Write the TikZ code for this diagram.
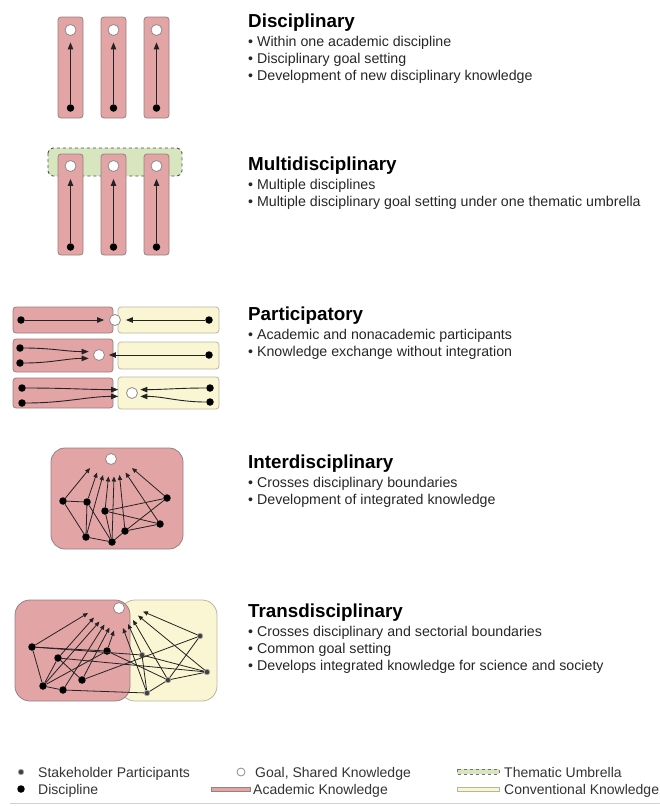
\documentclass[tikz,border=0pt]{standalone}
\usepackage{fontspec}
\setmainfont{Liberation Sans}
\usetikzlibrary{arrows.meta}
\definecolor{acad}{RGB}{227,164,166}
\definecolor{acadline}{RGB}{150,128,128}
\definecolor{conv}{RGB}{250,246,212}
\definecolor{convline}{RGB}{185,182,160}
\definecolor{umb}{RGB}{216,230,192}
\definecolor{edgec}{RGB}{35,35,35}
\definecolor{rulec}{RGB}{205,208,225}
\tikzset{
 acadbox/.style={fill=acad, draw=acadline, line width=0.8pt, rounded corners=3pt},
 convbox/.style={fill=conv, draw=convline, line width=0.8pt, rounded corners=3pt},
 goal/.style={circle, fill=white, draw=black!45, line width=0.8pt, minimum size=11pt, inner sep=0pt},
 disc/.style={circle, fill=black, minimum size=7.5pt, inner sep=0pt},
 stake/.style={circle, fill=black!75, draw=black!35, line width=0.7pt, minimum size=5.5pt, inner sep=0pt},
 arr/.style={draw=edgec, line width=0.9pt, -{Triangle[length=7pt,width=5.5pt]}},
 arrs/.style={draw=edgec, line width=0.8pt, -{Triangle[length=5pt,width=4.2pt]}},
 lnk/.style={draw=edgec, line width=0.8pt},
 ttl/.style={anchor=base west, inner sep=0pt, font=\fontsize{18.8}{22}\selectfont\bfseries},
 bul/.style={anchor=base west, inner sep=0pt, font=\fontsize{14.2}{17}\selectfont, text=black!85},
 leg/.style={anchor=base west, inner sep=0pt, font=\fontsize{14}{17}\selectfont, text=black!80},
}
\begin{document}
\begin{tikzpicture}[x=1pt,y=-1pt]
\useasboundingbox (0,0) rectangle (660,806);

% ---------- Disciplinary
\foreach \i/\x in {1/70.5,2/113.5,3/156.5}{
  \path[acadbox] (\x-12.5,17) rectangle (\x+12.5,118);
  \node[goal] (dg\i) at (\x,30) {};
  \node[disc] (dd\i) at (\x,108) {};
  \draw[arr, shorten >=6.5pt] (dd\i) -- (dg\i);
}
\node[ttl] (t1) at (248,27) {Disciplinary};
\node[bul] (b11) at (248,46.5) {• Within one academic discipline};
\node[bul] (b12) at (248,63.5) {• Disciplinary goal setting};
\node[bul] (b13) at (248,80.5) {• Development of new disciplinary knowledge};

% ---------- Multidisciplinary
\path[fill=umb, draw=black!70, dashed, line width=0.9pt, rounded corners=5pt] (48,148) rectangle (182,176);
\foreach \i/\x in {1/70.5,2/113.5,3/156.5}{
  \path[acadbox] (\x-12.5,154) rectangle (\x+12.5,255);
  \node[goal] (mg\i) at (\x,166) {};
  \node[disc] (md\i) at (\x,247) {};
  \draw[arr, shorten >=7pt] (md\i) -- (mg\i);
}
\node[ttl] (t2) at (248,170) {Multidisciplinary};
\node[bul] (b21) at (248,189.5) {• Multiple disciplines};
\node[bul] (b22) at (248,206.5) {• Multiple disciplinary goal setting under one thematic umbrella};

% ---------- Participatory
\path[acadbox] (13,307) rectangle (113,333);
\path[convbox] (118,307) rectangle (219,333);
\node[goal] (p1g) at (115,320) {};
\node[disc] (p1a) at (21,320) {};
\node[disc] (p1b) at (209,320) {};
\draw[arr, shorten >=5pt] (p1a) -- (p1g);
\draw[arr, shorten >=5pt] (p1b) -- (p1g);

\path[acadbox] (13,339) rectangle (113,372);
\path[convbox] (118,342) rectangle (219,369);
\node[goal] (p2g) at (99,355) {};
\node[disc] (p2a) at (20,348) {};
\node[disc] (p2b) at (20,363) {};
\node[disc] (p2c) at (209,355) {};
\draw[arr, shorten >=5.5pt] (p2a) to[out=0,in=180] (p2g.145);
\draw[arr, shorten >=5.5pt] (p2b) to[out=0,in=180] (p2g.215);
\draw[arr, shorten >=4pt] (p2c) -- (p2g);

\path[acadbox] (13,378) rectangle (113,408);
\path[convbox] (118,377) rectangle (219,409);
\node[goal] (p3g) at (132,393) {};
\node[disc] (p3a) at (22,388) {};
\node[disc] (p3b) at (22,403) {};
\node[disc] (p3c) at (210,388) {};
\node[disc] (p3d) at (210,402) {};
\draw[arr, shorten >=9pt] (p3a) to[out=0,in=180] (p3g.145);
\draw[arr, shorten >=9pt] (p3b) to[out=0,in=180] (p3g.215);
\draw[arr, shorten >=3.5pt] (p3c) to[out=180,in=0] (p3g.35);
\draw[arr, shorten >=3.5pt] (p3d) to[out=180,in=0] (p3g.-35);

\node[ttl] (t3) at (248,320) {Participatory};
\node[bul] (b31) at (248,339.5) {• Academic and nonacademic participants};
\node[bul] (b32) at (248,356.5) {• Knowledge exchange without integration};

% ---------- Interdisciplinary
\path[acadbox, rounded corners=14pt] (51,448) rectangle (183,549);
\node[goal] (ig) at (111,459) {};
\node[disc] (iA) at (63,501) {};
\node[disc] (iB) at (87,502) {};
\node[disc] (iC) at (105,511) {};
\node[disc] (iD) at (167,498) {};
\node[disc] (iE) at (160,524) {};
\node[disc] (iF) at (125,531) {};
\node[disc] (iG) at (86,537) {};
\node[disc] (iH) at (112,542) {};
\coordinate (tA) at (90,468);
\coordinate (tB) at (97,472.5);
\coordinate (tG) at (103,475);
\coordinate (tC) at (108.5,476.5);
\coordinate (tH) at (114,476.5);
\coordinate (tF) at (119.5,475);
\coordinate (tE) at (125.5,472.5);
\coordinate (tD) at (132,468);
\foreach \a/\b in {iA/iB,iA/iG,iB/iG,iB/iH,iC/iD,iC/iE,iC/iH,iG/iH,iH/iF,iF/iE,iD/iF}
  \draw[lnk] (\a) -- (\b);
\foreach \n in {A,B,C,D,E,F,G,H}
  \draw[arrs] (i\n) -- (t\n);
\node[ttl] (t4) at (248,468) {Interdisciplinary};
\node[bul] (b41) at (248,487.5) {• Crosses disciplinary boundaries};
\node[bul] (b42) at (248,504.5) {• Development of integrated knowledge};

% ---------- Transdisciplinary
\path[convbox, rounded corners=15pt] (120,600) rectangle (217,701);
\path[acadbox, rounded corners=15pt] (15,600) rectangle (130,701);
\node[goal] (tg) at (119,608) {};
\node[disc] (P1) at (32,647) {};
\node[disc] (P2) at (58,658) {};
\node[disc] (P3) at (43,686) {};
\node[disc] (P4) at (63,690) {};
\node[disc] (P5) at (82,680) {};
\node[disc] (P6) at (107,651) {};
\node[stake] (Y1) at (200,636) {};
\node[stake] (Y2) at (207,672) {};
\node[stake] (Y3) at (168,680) {};
\node[stake] (Y4) at (147,693) {};
\node[stake] (Y5) at (142,655) {};
\coordinate (sP1) at (88,613);
\coordinate (sP2) at (94,617.5);
\coordinate (sP3) at (99.5,621.5);
\coordinate (sP4) at (104.5,624.5);
\coordinate (sP5) at (109.5,627.5);
\coordinate (sP6) at (114,630.5);
\coordinate (sY4) at (123,628);
\coordinate (sY5) at (128,624);
\coordinate (sY3) at (133,620);
\coordinate (sY2) at (138,615.5);
\coordinate (sY1) at (143,611.5);
\foreach \a/\b in {P1/P3,P1/P6,P1/Y5,P2/P3,P2/Y2,P3/P4,P3/P6,P4/Y4,P5/P2,P5/Y1,P6/Y3,Y1/Y3,Y2/Y5,Y2/Y3,Y5/Y4,Y3/Y4}
  \draw[lnk] (\a) -- (\b);
\foreach \n in {P1,P2,P3,P4,P5,P6,Y1,Y2,Y3,Y4,Y5}
  \draw[arrs] (\n) -- (s\n);
\node[ttl] (t5) at (248,617) {Transdisciplinary};
\node[bul] (b51) at (248,636.5) {• Crosses disciplinary and sectorial boundaries};
\node[bul] (b52) at (248,653.5) {• Common goal setting};
\node[bul] (b53) at (248,670.5) {• Develops integrated knowledge for science and society};

% ---------- Legend
\node[stake] (ls) at (21,772) {};
\node[leg] (lst) at (38,777) {Stakeholder Participants};
\node[disc] (ld) at (21,789) {};
\node[leg] (ldt) at (38,794) {Discipline};
\node[goal, minimum size=8pt] (lg) at (241,772) {};
\node[leg] (lgt) at (255,777) {Goal, Shared Knowledge};
\path[fill=acad, draw=acadline, line width=0.5pt] (211,787) rectangle (250,791);
\node[leg] (lat) at (253,794) {Academic Knowledge};
\path[fill=umb, draw=black!55, dashed, line width=0.6pt] (457,769) rectangle (499,774);
\node[leg] (lut) at (504,777) {Thematic Umbrella};
\path[fill=conv, draw=convline, line width=0.6pt] (457,787) rectangle (499,791);
\node[leg] (lct) at (504,794) {Conventional Knowledge};
\draw[rulec, line width=1pt] (10,803) -- (660,803);
\end{tikzpicture}
\end{document}
